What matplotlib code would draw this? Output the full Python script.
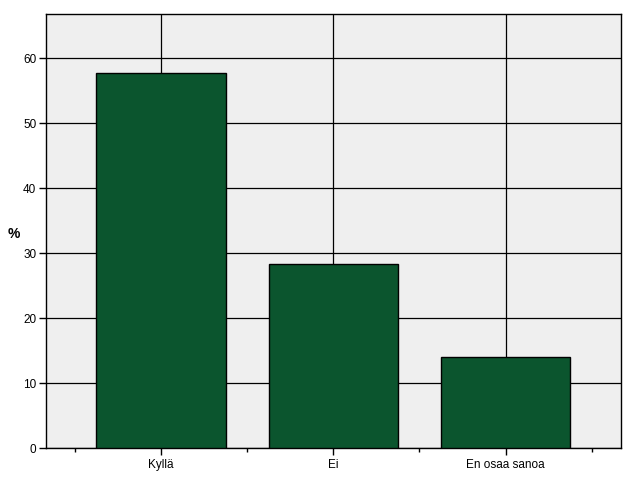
import numpy as np
import matplotlib
matplotlib.use('Agg')
from matplotlib import pyplot as plt

# data
categories = ['Kyllä', 'Ei', 'En osaa sanoa']
percent = [57.7, 28.3, 14.1]
yticks = [0, 10, 20, 30, 40, 50, 60]

plt.rcParams['font.family'] = ['Liberation Sans', 'DejaVu Sans']

fig = plt.figure(figsize=(6.29, 5.04), dpi=100)
ax = fig.add_axes([0.0731, 0.1105, 0.9134, 0.8617])
ax.set_facecolor('#efefef')

x = np.arange(len(categories))
ax.bar(x, percent, width=0.75, color='#0b552e', edgecolor='black', linewidth=1, zorder=3)

# grid behind the bars
ax.set_axisbelow(True)
ax.grid(True, color='black', linewidth=0.9, zorder=0)

ax.set_xlim(-0.667, 2.667)
ax.set_ylim(0, 66.8)
ax.set_xticks(x)
ax.set_xticklabels(categories, fontsize=8.5)
ax.set_xticks([-0.5, 0.5, 1.5, 2.5], minor=True)
ax.set_yticks(yticks)
ax.set_yticklabels([str(v) for v in yticks], fontsize=8.5)

ax.tick_params(axis='x', which='major', length=5, width=1, pad=3)
ax.tick_params(axis='x', which='minor', length=3, width=1)
ax.tick_params(axis='y', length=5, width=1, pad=2)

for s in ax.spines.values():
    s.set_linewidth(1)

ax.set_ylabel('%', rotation=0, fontsize=10, fontweight='bold', va='center', ha='center')
ax.yaxis.set_label_coords(-0.0557, 0.493)

fig.savefig('out.png', dpi=100)
